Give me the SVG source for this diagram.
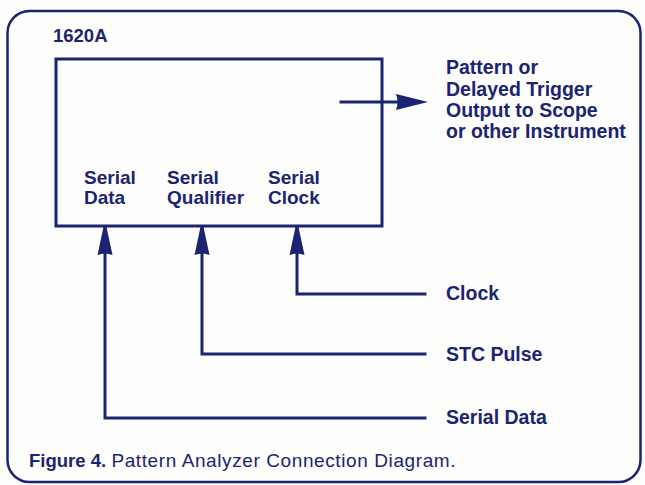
<svg xmlns="http://www.w3.org/2000/svg" width="645" height="485" viewBox="0 0 645 485">
<style>
  .ln{fill:none;stroke:#1b2470;stroke-width:3;stroke-linecap:square}
  .b{font-family:"Liberation Sans",Arial,sans-serif;font-weight:bold;font-size:19px;fill:#1b2470}
  .big{font-size:19.5px}
  .r{font-family:"Liberation Sans",Arial,sans-serif;font-size:19px;fill:#1b2470}
</style>
<defs>
  <marker id="up" markerUnits="userSpaceOnUse" viewBox="0 0 30 16" refX="30" refY="8" markerWidth="30" markerHeight="16" orient="auto">
    <path d="M30 6.5 L30 9.5 L2 15.5 Q5 8 2 0.5 Z" fill="#1b2470"/>
  </marker>
</defs>
<rect width="645" height="485" fill="#fdfdfb"/>
<g id="frame">
  <rect x="7.5" y="11" width="633" height="471" rx="22" fill="none" stroke="#1b2470" stroke-width="2.5"/>
  <text class="b" x="53" y="42" style="font-size:18.5px">1620A</text>
</g>
<g id="analyzer">
  <rect x="56" y="59" width="326" height="167" class="ln"/>
  <text class="b" x="84" y="184">Serial</text>
  <text class="b" x="84" y="204">Data</text>
  <text class="b" x="167" y="184">Serial</text>
  <text class="b" x="167" y="204">Qualifier</text>
  <text class="b" x="268" y="184">Serial</text>
  <text class="b" x="268" y="204">Clock</text>
</g>
<g id="output">
  <text class="b big" x="446" y="74">Pattern or</text>
  <text class="b big" x="446" y="96">Delayed Trigger</text>
  <text class="b big" x="446" y="117">Output to Scope</text>
  <text class="b big" x="446" y="138">or other Instrument</text>
</g>
<g id="inputs">
  <text class="b big" x="446" y="300">Clock</text>
  <text class="b big" x="446" y="361">STC Pulse</text>
  <text class="b big" x="446" y="424">Serial Data</text>
</g>
<g id="connectors">
  <line x1="341" y1="102" x2="398" y2="102" class="ln" stroke-linecap="butt"/>
  <path d="M396 94 L428 102 L396 110 Q399 102 396 94 Z" fill="#1b2470"/>
  <path d="M425 418 H105 V227" class="ln" stroke-linecap="butt" marker-end="url(#up)"/>
  <path d="M425 354 H202 V227" class="ln" stroke-linecap="butt" marker-end="url(#up)"/>
  <path d="M425 294 H297 V227" class="ln" stroke-linecap="butt" marker-end="url(#up)"/>
</g>
<g id="caption">
  <text x="29" y="467" class="r"><tspan class="b" style="font-size:18.5px">Figure 4.</tspan> <tspan style="letter-spacing:0.6px">Pattern Analyzer Connection Diagram.</tspan></text>
</g>
</svg>
